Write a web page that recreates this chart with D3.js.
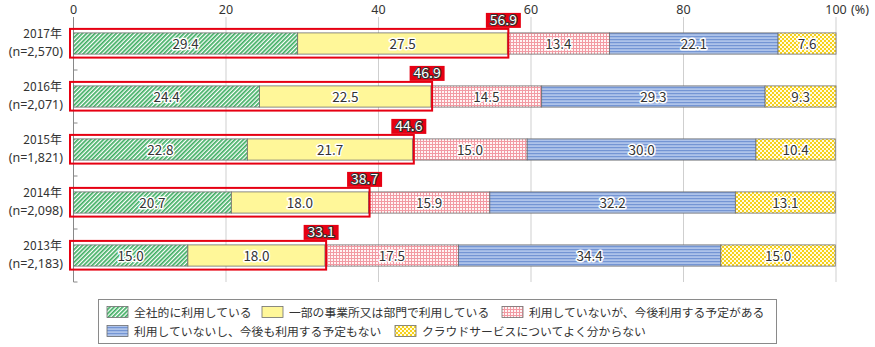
<!DOCTYPE html>
<html><head><meta charset="utf-8">
<script src="https://cdn.jsdelivr.net/npm/d3@7/dist/d3.min.js"></script>
<style>
body{margin:0;background:#fff;}
text{font-family:"Noto Sans CJK JP","Noto Sans",sans-serif;}
.num{font-family:"Noto Sans","DejaVu Sans",sans-serif;}
</style></head>
<body><svg id="c" width="875" height="347"></svg>
<script>
const years = ["2017年","2016年","2015年","2014年","2013年"];
const samples = ["(n＝2,570)","(n＝2,071)","(n＝1,821)","(n＝2,098)","(n＝2,183)"];
const seriesNames = ["全社的に利用している","一部の事業所又は部門で利用している","利用していないが、今後利用する予定がある","利用していないし、今後も利用する予定もない","クラウドサービスについてよく分からない"];
const s1 = [29.4,24.4,22.8,20.7,15.0];
const s2 = [27.5,22.5,21.7,18.0,18.0];
const s3 = [13.4,14.5,15.0,15.9,17.5];
const s4 = [22.1,29.3,30.0,32.2,34.4];
const s5 = [7.6,9.3,10.4,13.1,15.0];
const totals = [56.9,46.9,44.6,38.7,33.1];
const xTicks = [0,20,40,60,80,100];

const svg = d3.select("#c");
const defs = svg.append("defs");
// patterns
let p = defs.append("pattern").attr("id","pg").attr("width",3).attr("height",3).attr("patternUnits","userSpaceOnUse").attr("patternTransform","rotate(45)");
p.append("rect").attr("width",3).attr("height",3).attr("fill","#ffffff");
p.append("rect").attr("width",1.7).attr("height",3).attr("fill","#3fae62");
p = defs.append("pattern").attr("id","pp").attr("width",3).attr("height",3).attr("patternUnits","userSpaceOnUse");
p.append("rect").attr("width",3).attr("height",3).attr("fill","#fff4f4");
p.append("rect").attr("width",3).attr("height",1).attr("fill","#f29aa3");
p.append("rect").attr("width",1).attr("height",3).attr("fill","#f29aa3");
p = defs.append("pattern").attr("id","pb").attr("width",3).attr("height",3).attr("patternUnits","userSpaceOnUse");
p.append("rect").attr("width",3).attr("height",3).attr("fill","#aec3ea");
p.append("rect").attr("width",3).attr("height",1.2).attr("fill","#7495d4");
p = defs.append("pattern").attr("id","py").attr("width",4).attr("height",4).attr("patternUnits","userSpaceOnUse");
p.append("rect").attr("width",4).attr("height",4).attr("fill","#fffbe0");
p.append("rect").attr("width",2).attr("height",2).attr("fill","#f6d11a");
p.append("rect").attr("x",2).attr("y",2).attr("width",2).attr("height",2).attr("fill","#f6d11a");

const fills = ["url(#pg)","#fff799","url(#pp)","url(#pb)","url(#py)"];
const series = [s1,s2,s3,s4,s5];

const x = d3.scaleLinear().domain([0,100]).range([73.5,836]);
const y = d3.scaleBand().domain(years).range([17,282]).paddingInner(0.6).paddingOuter(0.3);

// grid
svg.append("g").selectAll("line").data(xTicks.filter(d=>d>0)).join("line")
  .attr("x1",d=>x(d)).attr("x2",d=>x(d)).attr("y1",17).attr("y2",282)
  .attr("stroke","#cfcfcf").attr("stroke-width",1);

// top tick labels
svg.append("g").selectAll("text").data(xTicks).join("text").attr("class","num")
  .attr("x",d=>x(d)).attr("y",13.5).attr("text-anchor","middle")
  .attr("font-size",12.5).attr("fill","#333").text(d=>d);
svg.append("text").attr("class","num").attr("x",851).attr("y",13.5).attr("font-size",12.5).attr("fill","#333").text("(%)");

// y axis
svg.append("line").attr("x1",x(0)).attr("x2",x(0)).attr("y1",17).attr("y2",282).attr("stroke","#888");
const step = y.step();
const bounds = d3.range(1,6).map(i=>17+i*step);
svg.append("g").selectAll("line").data(bounds).join("line")
  .attr("x1",x(0)).attr("x2",x(0)+4).attr("y1",d=>d).attr("y2",d=>d).attr("stroke","#888");

// year labels
years.forEach((yr,i)=>{
  const cy = y(yr)+y.bandwidth()/2;
  svg.append("text").attr("x",62).attr("y",cy-5.5).attr("text-anchor","end").attr("font-size",12).attr("fill","#333").text(yr);
  svg.append("text").attr("class","num").attr("x",63).attr("y",cy+12.5).attr("text-anchor","end").attr("font-size",12.5).attr("fill","#333").text(samples[i].replace("＝","="));
});

// bars
years.forEach((yr,i)=>{
  let cum = 0;
  series.forEach((s,k)=>{
    const v = s[i];
    const x0 = x(cum), x1 = x(cum+v);
    svg.append("rect").attr("x",x0).attr("y",y(yr)).attr("width",x1-x0).attr("height",y.bandwidth())
      .attr("fill",fills[k]).attr("stroke","#6e6e6e").attr("stroke-width",0.8);
    svg.append("text").attr("x",(x0+x1)/2).attr("y",y(yr)+y.bandwidth()/2+5)
      .attr("text-anchor","middle").attr("font-size",13.5).attr("fill","#333")
      .attr("stroke","#fff").attr("stroke-width",3).attr("paint-order","stroke")
      .attr("stroke-linejoin","round").text(v.toFixed(1));
    cum += v;
  });
});

// red highlight boxes and totals
years.forEach((yr,i)=>{
  const xe = x(s1[i]+s2[i]);
  svg.append("rect").attr("x",x(0)-3.5).attr("y",y(yr)-4).attr("width",xe-x(0)+4.5).attr("height",y.bandwidth()+7.5)
    .attr("fill","none").attr("stroke","#e60012").attr("stroke-width",2);
  const cx = xe-4;
  svg.append("rect").attr("x",cx-17.5).attr("y",y(yr)-20).attr("width",35).attr("height",15).attr("fill","#e60012");
  svg.append("text").attr("x",cx).attr("y",y(yr)-7.5).attr("text-anchor","middle").attr("font-size",14)
    .attr("fill","#fff").attr("stroke","#333").attr("stroke-width",2.2)
    .attr("paint-order","stroke").attr("stroke-linejoin","round").text(totals[i].toFixed(1));
});

// legend
svg.append("rect").attr("x",98.5).attr("y",299.5).attr("width",678).attr("height",44).attr("fill","#fff").attr("stroke","#8a8a8a");
const legPos = [[107,312],[262,312],[502,312],[107,331],[395,331]];
seriesNames.forEach((nm,k)=>{
  const [lx,ly] = legPos[k];
  svg.append("rect").attr("x",lx).attr("y",ly-5.5).attr("width",21).attr("height",11).attr("fill",fills[k]).attr("stroke","#6e6e6e").attr("stroke-width",0.8);
  svg.append("text").attr("x",lx+27).attr("y",ly+4.5).attr("font-size",11.8).attr("fill","#333").text(nm);
});
</script></body></html>
